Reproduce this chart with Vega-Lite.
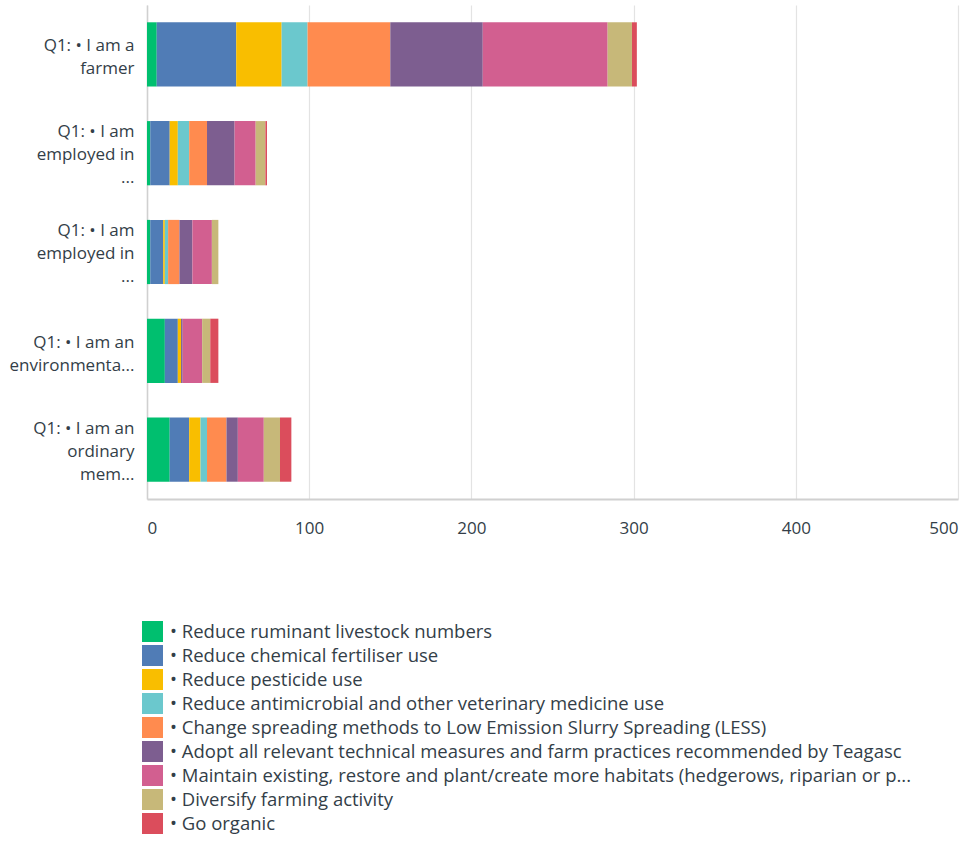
{
  "$schema": "https://vega.github.io/schema/vega-lite/v6.json",
  "autosize": {"type": "none"},
  "width": 811,
  "height": 494,
  "padding": {"left": 147, "top": 5, "right": 3, "bottom": 343},
  "background": "white",
  "config": {
    "font": "Open Sans",
    "view": {"stroke": null}
  },
  "data": {
    "values": [
      {"g": "Q1: • I am a|farmer", "s": "• Reduce ruminant livestock numbers", "i": 1, "v": 6},
      {"g": "Q1: • I am a|farmer", "s": "• Reduce chemical fertiliser use", "i": 2, "v": 49},
      {"g": "Q1: • I am a|farmer", "s": "• Reduce pesticide use", "i": 3, "v": 28},
      {"g": "Q1: • I am a|farmer", "s": "• Reduce antimicrobial and other veterinary medicine use", "i": 4, "v": 16},
      {"g": "Q1: • I am a|farmer", "s": "• Change spreading methods to Low Emission Slurry Spreading (LESS)", "i": 5, "v": 51},
      {"g": "Q1: • I am a|farmer", "s": "• Adopt all relevant technical measures and farm practices recommended by Teagasc", "i": 6, "v": 57},
      {"g": "Q1: • I am a|farmer", "s": "• Maintain existing, restore and plant/create more habitats (hedgerows, riparian or p...", "i": 7, "v": 77},
      {"g": "Q1: • I am a|farmer", "s": "• Diversify farming activity", "i": 8, "v": 15},
      {"g": "Q1: • I am a|farmer", "s": "• Go organic", "i": 9, "v": 3},

      {"g": "Q1: • I am|employed in|...", "s": "• Reduce ruminant livestock numbers", "i": 1, "v": 2},
      {"g": "Q1: • I am|employed in|...", "s": "• Reduce chemical fertiliser use", "i": 2, "v": 12},
      {"g": "Q1: • I am|employed in|...", "s": "• Reduce pesticide use", "i": 3, "v": 5},
      {"g": "Q1: • I am|employed in|...", "s": "• Reduce antimicrobial and other veterinary medicine use", "i": 4, "v": 7},
      {"g": "Q1: • I am|employed in|...", "s": "• Change spreading methods to Low Emission Slurry Spreading (LESS)", "i": 5, "v": 11},
      {"g": "Q1: • I am|employed in|...", "s": "• Adopt all relevant technical measures and farm practices recommended by Teagasc", "i": 6, "v": 17},
      {"g": "Q1: • I am|employed in|...", "s": "• Maintain existing, restore and plant/create more habitats (hedgerows, riparian or p...", "i": 7, "v": 13},
      {"g": "Q1: • I am|employed in|...", "s": "• Diversify farming activity", "i": 8, "v": 6},
      {"g": "Q1: • I am|employed in|...", "s": "• Go organic", "i": 9, "v": 1},

      {"g": "Q1: • I am|employed in|... ", "s": "• Reduce ruminant livestock numbers", "i": 1, "v": 2},
      {"g": "Q1: • I am|employed in|... ", "s": "• Reduce chemical fertiliser use", "i": 2, "v": 8},
      {"g": "Q1: • I am|employed in|... ", "s": "• Reduce pesticide use", "i": 3, "v": 1},
      {"g": "Q1: • I am|employed in|... ", "s": "• Reduce antimicrobial and other veterinary medicine use", "i": 4, "v": 2},
      {"g": "Q1: • I am|employed in|... ", "s": "• Change spreading methods to Low Emission Slurry Spreading (LESS)", "i": 5, "v": 7},
      {"g": "Q1: • I am|employed in|... ", "s": "• Adopt all relevant technical measures and farm practices recommended by Teagasc", "i": 6, "v": 8},
      {"g": "Q1: • I am|employed in|... ", "s": "• Maintain existing, restore and plant/create more habitats (hedgerows, riparian or p...", "i": 7, "v": 12},
      {"g": "Q1: • I am|employed in|... ", "s": "• Diversify farming activity", "i": 8, "v": 4},

      {"g": "Q1: • I am an|environmenta...", "s": "• Reduce ruminant livestock numbers", "i": 1, "v": 11},
      {"g": "Q1: • I am an|environmenta...", "s": "• Reduce chemical fertiliser use", "i": 2, "v": 8},
      {"g": "Q1: • I am an|environmenta...", "s": "• Reduce pesticide use", "i": 3, "v": 2},
      {"g": "Q1: • I am an|environmenta...", "s": "• Adopt all relevant technical measures and farm practices recommended by Teagasc", "i": 6, "v": 1},
      {"g": "Q1: • I am an|environmenta...", "s": "• Maintain existing, restore and plant/create more habitats (hedgerows, riparian or p...", "i": 7, "v": 12},
      {"g": "Q1: • I am an|environmenta...", "s": "• Diversify farming activity", "i": 8, "v": 5},
      {"g": "Q1: • I am an|environmenta...", "s": "• Go organic", "i": 9, "v": 5},

      {"g": "Q1: • I am an|ordinary|mem...", "s": "• Reduce ruminant livestock numbers", "i": 1, "v": 14},
      {"g": "Q1: • I am an|ordinary|mem...", "s": "• Reduce chemical fertiliser use", "i": 2, "v": 12},
      {"g": "Q1: • I am an|ordinary|mem...", "s": "• Reduce pesticide use", "i": 3, "v": 7},
      {"g": "Q1: • I am an|ordinary|mem...", "s": "• Reduce antimicrobial and other veterinary medicine use", "i": 4, "v": 4},
      {"g": "Q1: • I am an|ordinary|mem...", "s": "• Change spreading methods to Low Emission Slurry Spreading (LESS)", "i": 5, "v": 12},
      {"g": "Q1: • I am an|ordinary|mem...", "s": "• Adopt all relevant technical measures and farm practices recommended by Teagasc", "i": 6, "v": 7},
      {"g": "Q1: • I am an|ordinary|mem...", "s": "• Maintain existing, restore and plant/create more habitats (hedgerows, riparian or p...", "i": 7, "v": 16},
      {"g": "Q1: • I am an|ordinary|mem...", "s": "• Diversify farming activity", "i": 8, "v": 10},
      {"g": "Q1: • I am an|ordinary|mem...", "s": "• Go organic", "i": 9, "v": 7}
    ]
  },
  "mark": {"type": "bar"},
  "encoding": {
    "y": {
      "field": "g",
      "type": "nominal",
      "sort": ["Q1: • I am a|farmer", "Q1: • I am|employed in|...", "Q1: • I am|employed in|... ", "Q1: • I am an|environmenta...", "Q1: • I am an|ordinary|mem..."],
      "scale": {"paddingInner": 0.35, "paddingOuter": 0.175},
      "axis": {
        "title": null,
        "labelExpr": "split(datum.label, '|')",
        "labelFontSize": 17,
        "labelColor": "#333e48",
        "labelLineHeight": 23,
        "labelPadding": 13,
        "labelLimit": 200,
        "labelOffset": {"condition": {"test": "indexof(datum.value, 'employed') >= 0 || indexof(datum.value, 'ordinary') >= 0", "value": -21}, "value": -8},
        "ticks": false,
        "domainColor": "#d0d0d0",
        "domainWidth": 1.5
      }
    },
    "x": {
      "field": "v",
      "type": "quantitative",
      "stack": "zero",
      "scale": {"domain": [0, 500]},
      "axis": {
        "title": null,
        "values": [0, 100, 200, 300, 400, 500],
        "labelFontSize": 17,
        "labelColor": "#333e48",
        "labelPadding": 21,
        "ticks": false,
        "domainColor": "#d0d0d0",
        "domainWidth": 2,
        "gridColor": "#e3e3e3",
        "gridWidth": 1.2
      }
    },
    "order": {"field": "i", "type": "quantitative"},
    "color": {
      "field": "s",
      "type": "nominal",
      "sort": [
        "• Reduce ruminant livestock numbers",
        "• Reduce chemical fertiliser use",
        "• Reduce pesticide use",
        "• Reduce antimicrobial and other veterinary medicine use",
        "• Change spreading methods to Low Emission Slurry Spreading (LESS)",
        "• Adopt all relevant technical measures and farm practices recommended by Teagasc",
        "• Maintain existing, restore and plant/create more habitats (hedgerows, riparian or p...",
        "• Diversify farming activity",
        "• Go organic"
      ],
      "scale": {
        "range": ["#00bf6f", "#507cb6", "#f9be00", "#6bc8cd", "#ff8b4f", "#7d5e90", "#d25f90", "#c7b879", "#db4d5c"]
      },
      "legend": {
        "title": null,
        "orient": "none",
        "legendX": -5,
        "legendY": 616,
        "direction": "vertical",
        "columns": 1,
        "symbolType": "square",
        "symbolSize": 440,
        "symbolStrokeWidth": 0,
        "symbolOpacity": 1,
        "labelFontSize": 18.5,
        "labelColor": "#333e48",
        "labelLimit": 900,
        "labelOffset": 7,
        "rowPadding": 3
      }
    }
  }
}
